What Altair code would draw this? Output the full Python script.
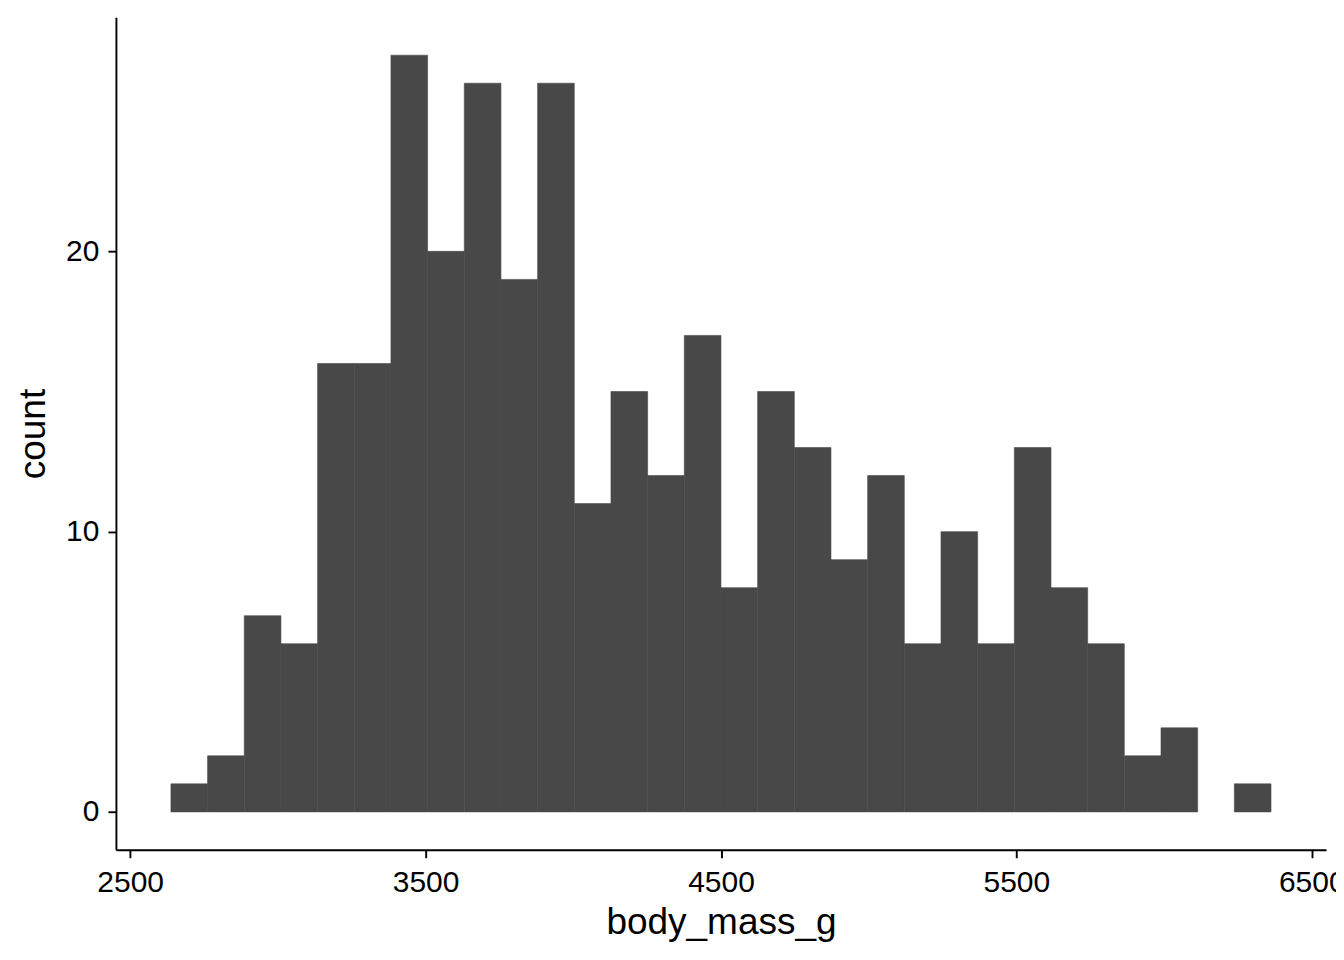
import altair as alt
import pandas as pd

# Histogram of body_mass_g, 30 bins (binwidth ~124.14 g), bin centres from 2700 to 6300
bin_width = 3600 / 29
bin_centers = [2700 + i * bin_width for i in range(30)]
counts = [1, 2, 7, 6, 16, 16, 27, 20, 26, 19,
          26, 11, 15, 12, 17, 8, 15, 13, 9, 12,
          6, 10, 6, 13, 8, 6, 2, 3, 0, 1]

x_ticks = [2500, 3500, 4500, 5500, 6500]
y_ticks = [0, 10, 20]

df = pd.DataFrame({
    "x_start": [c - bin_width / 2 for c in bin_centers],
    "x_end": [c + bin_width / 2 for c in bin_centers],
    "count": counts,
})

lo = df["x_start"].min()
hi = df["x_end"].max()
pad = (hi - lo) * 0.05
x_domain = [lo - pad, hi + pad]
ymax = max(counts)
y_domain = [-0.05 * ymax, ymax * 1.05]

FONT = "Liberation Sans"
BAR = "#484848"

axis_common = dict(
    domainColor="black", domainWidth=1.9,
    tickColor="black", tickWidth=1.9, tickSize=8,
    labelColor="black", labelFont=FONT, labelFontSize=30,
    titleColor="black", titleFont=FONT, titleFontSize=37, titleFontWeight="normal",
    grid=False, format="d",
)

chart = alt.Chart(df).transform_filter(
    "datum.count > 0"
).mark_bar(color=BAR, stroke=BAR, strokeWidth=0.6).encode(
    x=alt.X("x_start:Q",
            scale=alt.Scale(domain=x_domain, nice=False, zero=False),
            axis=alt.Axis(title="body_mass_g", values=x_ticks, labelPadding=10,
                          titlePadding=7, labelFlush=False, labelOverlap=False,
                          **axis_common)),
    x2="x_end:Q",
    y=alt.Y("count:Q",
            scale=alt.Scale(domain=y_domain, nice=False, zero=False),
            axis=alt.Axis(title="count", values=y_ticks, labelPadding=9,
                          titlePadding=13, labelFlush=False, **axis_common)),
    y2=alt.datum(0),
).properties(
    width=1211,
    height=833,
    background="white",
    autosize=alt.AutoSizeParams(type="none"),
    padding={"left": 108, "top": 9, "right": 10, "bottom": 102},
).configure_view(stroke=None, strokeWidth=0)

chart.save("out.html", embed_options={"renderer": "svg", "actions": False})
